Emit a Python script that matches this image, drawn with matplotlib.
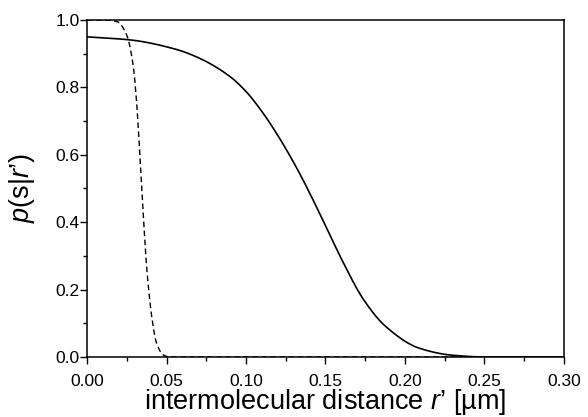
import numpy as np
import matplotlib
matplotlib.use('Agg')
import matplotlib.pyplot as plt
from matplotlib.ticker import MultipleLocator

plt.rcParams['font.family'] = ['Liberation Sans', 'DejaVu Sans']
plt.rcParams['mathtext.fontset'] = 'custom'
plt.rcParams['mathtext.rm'] = 'Liberation Sans'
plt.rcParams['mathtext.it'] = 'Liberation Sans:italic'

# solid curve
r_solid = [0.0, 0.027, 0.056, 0.071, 0.090, 0.100, 0.111, 0.121, 0.132,
           0.140, 0.151, 0.161, 0.174, 0.188, 0.209, 0.23, 0.25, 0.30]
p_solid = [0.950, 0.941, 0.913, 0.886, 0.832, 0.788, 0.722, 0.650, 0.560,
           0.487, 0.380, 0.282, 0.170, 0.090, 0.026, 0.005, 0.0, 0.0]

# dashed curve
r_dash = [0.0, 0.011, 0.019, 0.025, 0.029, 0.031, 0.033, 0.0348, 0.0375,
          0.0407, 0.0438, 0.048, 0.052, 0.30]
p_dash = [1.0, 1.0, 0.995, 0.955, 0.866, 0.768, 0.62, 0.471, 0.268,
          0.12, 0.04, 0.006, 0.0, 0.0]


def smooth(x, y, n=400):
    # monotone piecewise cubic (Fritsch-Carlson) through the read points
    x = np.asarray(x, float)
    y = np.asarray(y, float)
    xs = np.linspace(x[0], x[-1], n)
    h = np.diff(x)
    d = np.diff(y) / h
    m = np.zeros_like(y)
    m[0], m[-1] = d[0], d[-1]
    for i in range(1, len(y) - 1):
        if d[i - 1] * d[i] <= 0:
            m[i] = 0
        else:
            w1 = 2 * h[i] + h[i - 1]
            w2 = h[i] + 2 * h[i - 1]
            m[i] = (w1 + w2) / (w1 / d[i - 1] + w2 / d[i])
    idx = np.clip(np.searchsorted(x, xs) - 1, 0, len(x) - 2)
    t = (xs - x[idx]) / h[idx]
    h00 = 2 * t**3 - 3 * t**2 + 1
    h10 = t**3 - 2 * t**2 + t
    h01 = -2 * t**3 + 3 * t**2
    h11 = t**3 - t**2
    ys = h00 * y[idx] + h10 * h[idx] * m[idx] + h01 * y[idx + 1] + h11 * h[idx] * m[idx + 1]
    return xs, ys


fig = plt.figure(figsize=(5.88, 4.17), dpi=100)
ax = fig.add_axes([0.148, 0.144, 0.811, 0.808])

xs, ys = smooth(r_solid, p_solid)
ax.plot(xs, ys, color='black', lw=1.2)
xd, yd = smooth(r_dash, p_dash, 1500)
ax.plot(xd, yd, color='black', lw=1.0, ls=(0, (4, 2.5)))

ax.set_xlim(0, 0.30)
ax.set_ylim(0, 1.0)
ax.xaxis.set_major_locator(MultipleLocator(0.05))
ax.xaxis.set_minor_locator(MultipleLocator(0.025))
ax.yaxis.set_major_locator(MultipleLocator(0.2))
ax.yaxis.set_minor_locator(MultipleLocator(0.1))
ax.xaxis.set_major_formatter(plt.FormatStrFormatter('%.2f'))
ax.yaxis.set_major_formatter(plt.FormatStrFormatter('%.1f'))
ax.tick_params(which='both', direction='out', top=False, right=False,
               width=1.0, labelsize=12.5)
ax.tick_params(which='major', length=5)
ax.tick_params(which='minor', length=3)
ax.tick_params(axis='x', which='major', pad=7)
ax.tick_params(axis='y', which='major', pad=0.5)
for s in ax.spines.values():
    s.set_linewidth(1.1)

ax.set_xlabel('intermolecular distance $r’$ [µm]', fontsize=19.5, labelpad=-1)
ax.set_ylabel('$p$(s|$r’$)', fontsize=19.5, labelpad=13)

fig.savefig('out.png', dpi=100)
